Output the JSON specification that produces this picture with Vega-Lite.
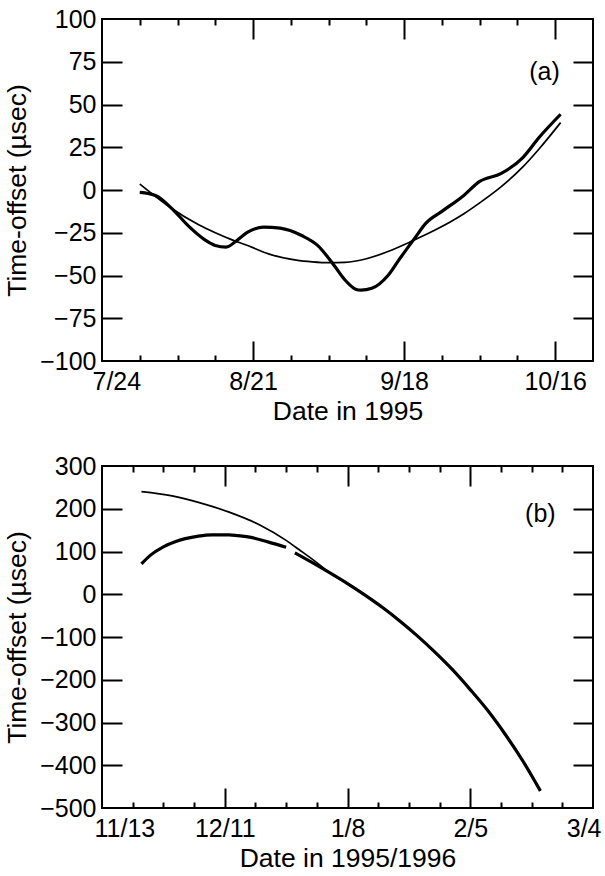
{
  "$schema": "https://vega.github.io/schema/vega-lite/v6.json",
  "background": "white",
  "padding": {"left": 3, "top": 6, "right": 8, "bottom": 4},
  "spacing": 27,
  "config": {
    "view": {"stroke": "black", "strokeWidth": 2},
    "font": "Liberation Sans",
    "axis": {
      "labelFont": "Liberation Sans", "titleFont": "Liberation Sans",
      "labelFontSize": 25, "titleFontSize": 26.5, "titleFontWeight": "normal",
      "labelColor": "black", "titleColor": "black", "tickColor": "black",
      "tickWidth": 2, "domain": false, "grid": false,
      "labelOverlap": false, "labelFlush": false
    }
  },
  "datasets": {
    "a": [
      {"series": "fit", "date": "1995-07-31", "value": 3.5},
      {"series": "fit", "date": "1995-08-03", "value": -4},
      {"series": "fit", "date": "1995-08-06", "value": -11},
      {"series": "fit", "date": "1995-08-11", "value": -20.5},
      {"series": "fit", "date": "1995-08-14", "value": -25},
      {"series": "fit", "date": "1995-08-17", "value": -29},
      {"series": "fit", "date": "1995-08-20", "value": -32.5},
      {"series": "fit", "date": "1995-08-24", "value": -37.5},
      {"series": "fit", "date": "1995-08-29", "value": -41},
      {"series": "fit", "date": "1995-09-01", "value": -42},
      {"series": "fit", "date": "1995-09-04", "value": -42.5},
      {"series": "fit", "date": "1995-09-07", "value": -42.3},
      {"series": "fit", "date": "1995-09-11", "value": -40.2},
      {"series": "fit", "date": "1995-09-15", "value": -36},
      {"series": "fit", "date": "1995-09-19", "value": -30.5},
      {"series": "fit", "date": "1995-09-24", "value": -23},
      {"series": "fit", "date": "1995-09-29", "value": -14},
      {"series": "fit", "date": "1995-10-02", "value": -7.5},
      {"series": "fit", "date": "1995-10-06", "value": 2},
      {"series": "fit", "date": "1995-10-10", "value": 13.5},
      {"series": "fit", "date": "1995-10-13", "value": 24},
      {"series": "fit", "date": "1995-10-17", "value": 39.4},
      {"series": "data", "date": "1995-07-31", "value": -1.4},
      {"series": "data", "date": "1995-08-03", "value": -3.3},
      {"series": "data", "date": "1995-08-06", "value": -11},
      {"series": "data", "date": "1995-08-09", "value": -21},
      {"series": "data", "date": "1995-08-12", "value": -29},
      {"series": "data", "date": "1995-08-14", "value": -32.4},
      {"series": "data", "date": "1995-08-16", "value": -33.4},
      {"series": "data", "date": "1995-08-18", "value": -29.5},
      {"series": "data", "date": "1995-08-20", "value": -24.7},
      {"series": "data", "date": "1995-08-23", "value": -21.7},
      {"series": "data", "date": "1995-08-26", "value": -22.3},
      {"series": "data", "date": "1995-08-30", "value": -26.6},
      {"series": "data", "date": "1995-09-02", "value": -32.5},
      {"series": "data", "date": "1995-09-05", "value": -44},
      {"series": "data", "date": "1995-09-07", "value": -52.5},
      {"series": "data", "date": "1995-09-09", "value": -58},
      {"series": "data", "date": "1995-09-10", "value": -58.6},
      {"series": "data", "date": "1995-09-12", "value": -57.5},
      {"series": "data", "date": "1995-09-15", "value": -50},
      {"series": "data", "date": "1995-09-17", "value": -41},
      {"series": "data", "date": "1995-09-20", "value": -28},
      {"series": "data", "date": "1995-09-22", "value": -19.5},
      {"series": "data", "date": "1995-09-25", "value": -12.5},
      {"series": "data", "date": "1995-09-29", "value": -3.3},
      {"series": "data", "date": "1995-10-02", "value": 5},
      {"series": "data", "date": "1995-10-06", "value": 9.7},
      {"series": "data", "date": "1995-10-10", "value": 19},
      {"series": "data", "date": "1995-10-13", "value": 30.7},
      {"series": "data", "date": "1995-10-17", "value": 44.3}
    ],
    "b": [
      {"series": "fit", "date": "1995-11-22", "value": 240},
      {"series": "fit", "date": "1995-11-29", "value": 230},
      {"series": "fit", "date": "1995-12-05", "value": 215},
      {"series": "fit", "date": "1995-12-12", "value": 192},
      {"series": "fit", "date": "1995-12-19", "value": 162},
      {"series": "fit", "date": "1995-12-25", "value": 126},
      {"series": "fit", "date": "1995-12-28", "value": 104},
      {"series": "fit", "date": "1996-01-01", "value": 74},
      {"series": "fit", "date": "1996-01-04", "value": 50},
      {"series": "fit", "date": "1996-01-08", "value": 25},
      {"series": "fit", "date": "1996-01-12", "value": -2},
      {"series": "fit", "date": "1996-01-16", "value": -31},
      {"series": "fit", "date": "1996-01-20", "value": -63},
      {"series": "fit", "date": "1996-01-24", "value": -98},
      {"series": "fit", "date": "1996-01-28", "value": -136},
      {"series": "fit", "date": "1996-02-01", "value": -177},
      {"series": "fit", "date": "1996-02-05", "value": -223},
      {"series": "fit", "date": "1996-02-09", "value": -272},
      {"series": "fit", "date": "1996-02-13", "value": -328},
      {"series": "fit", "date": "1996-02-17", "value": -390},
      {"series": "fit", "date": "1996-02-21", "value": -460},
      {"series": "d1", "date": "1995-11-22", "value": 71},
      {"series": "d1", "date": "1995-11-24", "value": 91},
      {"series": "d1", "date": "1995-11-27", "value": 111},
      {"series": "d1", "date": "1995-11-30", "value": 124},
      {"series": "d1", "date": "1995-12-02", "value": 130},
      {"series": "d1", "date": "1995-12-05", "value": 136},
      {"series": "d1", "date": "1995-12-08", "value": 139},
      {"series": "d1", "date": "1995-12-12", "value": 139},
      {"series": "d1", "date": "1995-12-14", "value": 137},
      {"series": "d1", "date": "1995-12-17", "value": 133},
      {"series": "d1", "date": "1995-12-21", "value": 122},
      {"series": "d1", "date": "1995-12-25", "value": 110},
      {"series": "d2", "date": "1995-12-27", "value": 97},
      {"series": "d2", "date": "1995-12-31", "value": 74},
      {"series": "d2", "date": "1996-01-04", "value": 50},
      {"series": "d2", "date": "1996-01-08", "value": 25},
      {"series": "d2", "date": "1996-01-12", "value": -2},
      {"series": "d2", "date": "1996-01-16", "value": -31},
      {"series": "d2", "date": "1996-01-20", "value": -63},
      {"series": "d2", "date": "1996-01-24", "value": -98},
      {"series": "d2", "date": "1996-01-28", "value": -136},
      {"series": "d2", "date": "1996-02-01", "value": -177},
      {"series": "d2", "date": "1996-02-05", "value": -223},
      {"series": "d2", "date": "1996-02-09", "value": -272},
      {"series": "d2", "date": "1996-02-13", "value": -328},
      {"series": "d2", "date": "1996-02-17", "value": -390},
      {"series": "d2", "date": "1996-02-21", "value": -460}
    ]
  },
  "vconcat": [
    {
      "width": 491, "height": 342,
      "data": {"name": "a"},
      "resolve": {"axis": {"x": "independent", "y": "independent"}},
      "layer": [
        {
          "transform": [{"filter": "datum.series === 'fit'"}],
          "mark": {"type": "line", "color": "black", "strokeWidth": 1.7, "interpolate": "monotone"},
          "encoding": {
            "x": {"field": "date", "type": "temporal",
              "scale": {"type": "utc", "domain": [{"year": 1995, "month": 7, "date": 24, "utc": true}, {"year": 1995, "month": 10, "date": 23, "utc": true}]},
              "axis": {"orient": "bottom", "ticks": false, "labelPadding": 8, "labelExpr": "utcFormat(datum.value, '%-m/%-d')", "labelFlush": true, "labelFlushOffset": 10, "title": "Date in 1995", "titlePadding": 4,
                "values": [{"year": 1995, "month": 7, "date": 24, "utc": true}, {"year": 1995, "month": 8, "date": 21, "utc": true}, {"year": 1995, "month": 9, "date": 18, "utc": true}, {"year": 1995, "month": 10, "date": 16, "utc": true}]}},
            "y": {"field": "value", "type": "quantitative",
              "scale": {"domain": [-100, 100], "nice": false, "zero": false},
              "axis": {"orient": "left", "ticks": false, "labelPadding": 6, "title": "Time-offset (µsec)", "titlePadding": 8,
                "values": [-100, -75, -50, -25, 0, 25, 50, 75, 100]}}
          }
        },
        {
          "transform": [{"filter": "datum.series === 'data'"}],
          "mark": {"type": "line", "color": "black", "strokeWidth": 3.2, "interpolate": "monotone"},
          "encoding": {
            "x": {"field": "date", "type": "temporal",
              "scale": {"type": "utc", "domain": [{"year": 1995, "month": 7, "date": 24, "utc": true}, {"year": 1995, "month": 10, "date": 23, "utc": true}]},
              "axis": {"orient": "bottom", "labels": false, "tickSize": -20, "title": null,
                "values": [{"year": 1995, "month": 8, "date": 21, "utc": true}, {"year": 1995, "month": 9, "date": 18, "utc": true}, {"year": 1995, "month": 10, "date": 16, "utc": true}]}},
            "y": {"field": "value", "type": "quantitative",
              "scale": {"domain": [-100, 100], "nice": false, "zero": false},
              "axis": {"orient": "left", "labels": false, "tickSize": -20, "title": null,
                "values": [-75, -50, -25, 0, 25, 50, 75]}}
          }
        },
        {
          "transform": [{"filter": "datum.series === 'fit'"}],
          "mark": {"type": "line", "opacity": 0},
          "encoding": {
            "x": {"field": "date", "type": "temporal",
              "scale": {"type": "utc", "domain": [{"year": 1995, "month": 7, "date": 24, "utc": true}, {"year": 1995, "month": 10, "date": 23, "utc": true}]},
              "axis": {"orient": "top", "labels": false, "tickSize": -20, "title": null,
                "values": [{"year": 1995, "month": 8, "date": 21, "utc": true}, {"year": 1995, "month": 9, "date": 18, "utc": true}, {"year": 1995, "month": 10, "date": 16, "utc": true}]}},
            "y": {"field": "value", "type": "quantitative",
              "scale": {"domain": [-100, 100], "nice": false, "zero": false},
              "axis": {"orient": "right", "labels": false, "tickSize": -20, "title": null,
                "values": [-75, -50, -25, 0, 25, 50, 75]}}
          }
        },
        {
          "transform": [{"filter": "datum.series === 'fit'"}],
          "mark": {"type": "line", "opacity": 0},
          "encoding": {
            "x": {"field": "date", "type": "temporal",
              "scale": {"type": "utc", "domain": [{"year": 1995, "month": 7, "date": 24, "utc": true}, {"year": 1995, "month": 10, "date": 23, "utc": true}]},
              "axis": {"orient": "bottom", "labels": false, "tickSize": -6, "title": null,
                "values": [{"year": 1995, "month": 7, "date": 31, "utc": true}, {"year": 1995, "month": 8, "date": 7, "utc": true}, {"year": 1995, "month": 8, "date": 14, "utc": true}, {"year": 1995, "month": 8, "date": 28, "utc": true}, {"year": 1995, "month": 9, "date": 4, "utc": true}, {"year": 1995, "month": 9, "date": 11, "utc": true}, {"year": 1995, "month": 9, "date": 25, "utc": true}, {"year": 1995, "month": 10, "date": 2, "utc": true}, {"year": 1995, "month": 10, "date": 9, "utc": true}]}},
            "y": {"field": "value", "type": "quantitative", "scale": {"domain": [-100, 100], "nice": false, "zero": false}, "axis": null}
          }
        },
        {
          "transform": [{"filter": "datum.series === 'fit'"}],
          "mark": {"type": "line", "opacity": 0},
          "encoding": {
            "x": {"field": "date", "type": "temporal",
              "scale": {"type": "utc", "domain": [{"year": 1995, "month": 7, "date": 24, "utc": true}, {"year": 1995, "month": 10, "date": 23, "utc": true}]},
              "axis": {"orient": "top", "labels": false, "tickSize": -6, "title": null,
                "values": [{"year": 1995, "month": 7, "date": 31, "utc": true}, {"year": 1995, "month": 8, "date": 7, "utc": true}, {"year": 1995, "month": 8, "date": 14, "utc": true}, {"year": 1995, "month": 8, "date": 28, "utc": true}, {"year": 1995, "month": 9, "date": 4, "utc": true}, {"year": 1995, "month": 9, "date": 11, "utc": true}, {"year": 1995, "month": 9, "date": 25, "utc": true}, {"year": 1995, "month": 10, "date": 2, "utc": true}, {"year": 1995, "month": 10, "date": 9, "utc": true}]}},
            "y": {"field": "value", "type": "quantitative", "scale": {"domain": [-100, 100], "nice": false, "zero": false}, "axis": null}
          }
        },
        {
          "data": {"values": [{}]},
          "mark": {"type": "text", "font": "Liberation Sans", "fontSize": 25, "color": "black"},
          "encoding": {
            "x": {"datum": {"year": 1995, "month": 10, "date": 14, "utc": true}, "type": "temporal", "axis": null},
            "y": {"datum": 69, "type": "quantitative", "axis": null},
            "text": {"value": "(a)"}
          }
        }
      ]
    },
    {
      "width": 491, "height": 342,
      "data": {"name": "b"},
      "resolve": {"axis": {"x": "independent", "y": "independent"}},
      "layer": [
        {
          "transform": [{"filter": "datum.series === 'fit'"}],
          "mark": {"type": "line", "color": "black", "strokeWidth": 1.7, "interpolate": "monotone"},
          "encoding": {
            "x": {"field": "date", "type": "temporal",
              "scale": {"type": "utc", "domain": [{"year": 1995, "month": 11, "date": 13, "utc": true}, {"year": 1996, "month": 3, "date": 4, "utc": true}]},
              "axis": {"orient": "bottom", "ticks": false, "labelPadding": 8, "labelExpr": "utcFormat(datum.value, '%-m/%-d')", "labelFlush": true, "labelFlushOffset": 8, "title": "Date in 1995/1996", "titlePadding": 4,
                "values": [{"year": 1995, "month": 11, "date": 13, "utc": true}, {"year": 1995, "month": 12, "date": 11, "utc": true}, {"year": 1996, "month": 1, "date": 8, "utc": true}, {"year": 1996, "month": 2, "date": 5, "utc": true}, {"year": 1996, "month": 3, "date": 4, "utc": true}]}},
            "y": {"field": "value", "type": "quantitative",
              "scale": {"domain": [-500, 300], "nice": false, "zero": false},
              "axis": {"orient": "left", "ticks": false, "labelPadding": 6, "title": "Time-offset (µsec)", "titlePadding": 8,
                "values": [-500, -400, -300, -200, -100, 0, 100, 200, 300]}}
          }
        },
        {
          "transform": [{"filter": "datum.series !== 'fit'"}],
          "mark": {"type": "line", "color": "black", "strokeWidth": 3.2, "interpolate": "monotone"},
          "encoding": {
            "detail": {"field": "series"},
            "x": {"field": "date", "type": "temporal",
              "scale": {"type": "utc", "domain": [{"year": 1995, "month": 11, "date": 13, "utc": true}, {"year": 1996, "month": 3, "date": 4, "utc": true}]},
              "axis": {"orient": "bottom", "labels": false, "tickSize": -20, "title": null,
                "values": [{"year": 1995, "month": 12, "date": 11, "utc": true}, {"year": 1996, "month": 1, "date": 8, "utc": true}, {"year": 1996, "month": 2, "date": 5, "utc": true}]}},
            "y": {"field": "value", "type": "quantitative",
              "scale": {"domain": [-500, 300], "nice": false, "zero": false},
              "axis": {"orient": "left", "labels": false, "tickSize": -20, "title": null,
                "values": [-400, -300, -200, -100, 0, 100, 200]}}
          }
        },
        {
          "transform": [{"filter": "datum.series === 'fit'"}],
          "mark": {"type": "line", "opacity": 0},
          "encoding": {
            "x": {"field": "date", "type": "temporal",
              "scale": {"type": "utc", "domain": [{"year": 1995, "month": 11, "date": 13, "utc": true}, {"year": 1996, "month": 3, "date": 4, "utc": true}]},
              "axis": {"orient": "top", "labels": false, "tickSize": -20, "title": null,
                "values": [{"year": 1995, "month": 12, "date": 11, "utc": true}, {"year": 1996, "month": 1, "date": 8, "utc": true}, {"year": 1996, "month": 2, "date": 5, "utc": true}]}},
            "y": {"field": "value", "type": "quantitative",
              "scale": {"domain": [-500, 300], "nice": false, "zero": false},
              "axis": {"orient": "right", "labels": false, "tickSize": -20, "title": null,
                "values": [-400, -300, -200, -100, 0, 100, 200]}}
          }
        },
        {
          "transform": [{"filter": "datum.series === 'fit'"}],
          "mark": {"type": "line", "opacity": 0},
          "encoding": {
            "x": {"field": "date", "type": "temporal",
              "scale": {"type": "utc", "domain": [{"year": 1995, "month": 11, "date": 13, "utc": true}, {"year": 1996, "month": 3, "date": 4, "utc": true}]},
              "axis": {"orient": "bottom", "labels": false, "tickSize": -6, "title": null,
                "values": [{"year": 1995, "month": 11, "date": 20, "utc": true}, {"year": 1995, "month": 11, "date": 27, "utc": true}, {"year": 1995, "month": 12, "date": 4, "utc": true}, {"year": 1995, "month": 12, "date": 18, "utc": true}, {"year": 1995, "month": 12, "date": 25, "utc": true}, {"year": 1996, "month": 1, "date": 1, "utc": true}, {"year": 1996, "month": 1, "date": 15, "utc": true}, {"year": 1996, "month": 1, "date": 22, "utc": true}, {"year": 1996, "month": 1, "date": 29, "utc": true}, {"year": 1996, "month": 2, "date": 12, "utc": true}, {"year": 1996, "month": 2, "date": 19, "utc": true}, {"year": 1996, "month": 2, "date": 26, "utc": true}]}},
            "y": {"field": "value", "type": "quantitative", "scale": {"domain": [-500, 300], "nice": false, "zero": false}, "axis": null}
          }
        },
        {
          "transform": [{"filter": "datum.series === 'fit'"}],
          "mark": {"type": "line", "opacity": 0},
          "encoding": {
            "x": {"field": "date", "type": "temporal",
              "scale": {"type": "utc", "domain": [{"year": 1995, "month": 11, "date": 13, "utc": true}, {"year": 1996, "month": 3, "date": 4, "utc": true}]},
              "axis": {"orient": "top", "labels": false, "tickSize": -6, "title": null,
                "values": [{"year": 1995, "month": 11, "date": 20, "utc": true}, {"year": 1995, "month": 11, "date": 27, "utc": true}, {"year": 1995, "month": 12, "date": 4, "utc": true}, {"year": 1995, "month": 12, "date": 18, "utc": true}, {"year": 1995, "month": 12, "date": 25, "utc": true}, {"year": 1996, "month": 1, "date": 1, "utc": true}, {"year": 1996, "month": 1, "date": 15, "utc": true}, {"year": 1996, "month": 1, "date": 22, "utc": true}, {"year": 1996, "month": 1, "date": 29, "utc": true}, {"year": 1996, "month": 2, "date": 12, "utc": true}, {"year": 1996, "month": 2, "date": 19, "utc": true}, {"year": 1996, "month": 2, "date": 26, "utc": true}]}},
            "y": {"field": "value", "type": "quantitative", "scale": {"domain": [-500, 300], "nice": false, "zero": false}, "axis": null}
          }
        },
        {
          "data": {"values": [{}]},
          "mark": {"type": "text", "font": "Liberation Sans", "fontSize": 25, "color": "black"},
          "encoding": {
            "x": {"datum": {"year": 1996, "month": 2, "date": 21, "utc": true}, "type": "temporal", "axis": null},
            "y": {"datum": 187, "type": "quantitative", "axis": null},
            "text": {"value": "(b)"}
          }
        }
      ]
    }
  ]
}
